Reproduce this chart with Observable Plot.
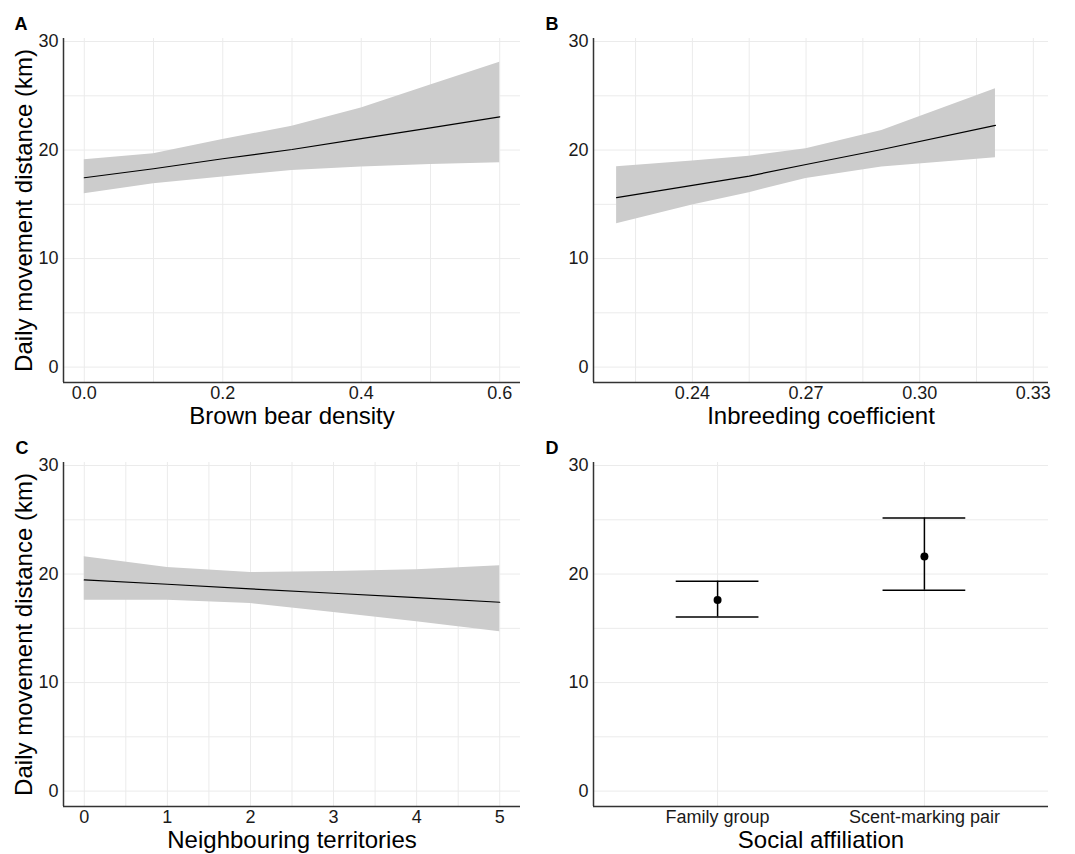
<!DOCTYPE html>
<html><head><meta charset="utf-8">
<script src="https://cdn.jsdelivr.net/npm/d3@7"></script>
<script src="https://cdn.jsdelivr.net/npm/@observablehq/plot@0.6"></script>
<style>
body{margin:0;background:#fff;}
#wrap{position:relative;width:1075px;height:854px;font-family:"Liberation Sans",Arial,sans-serif;}
#wrap svg{position:absolute;}
</style></head><body><div id="wrap"></div>
<script>
const yTitle = "Daily movement distance (km)";
const yTicks = [0, 10, 20, 30];
const yGrid = [0, 5, 10, 15, 20, 25, 30];
const yDomain = [-1.42, 30.28];

// Panel A: Brown bear density
const densityX   = [0, 0.1, 0.2, 0.3, 0.4, 0.5, 0.6];
const densityFit = [17.45, 18.28, 19.2, 20.05, 21.06, 22.04, 23.05];
const densityLo  = [15.98, 16.9, 17.51, 18.12, 18.43, 18.67, 18.83];
const densityHi  = [19.1, 19.65, 20.97, 22.19, 23.88, 26.0, 28.1];
const densityTicks = [0, 0.2, 0.4, 0.6];
const densityGrid  = [0, 0.1, 0.2, 0.3, 0.4, 0.5, 0.6];

// Panel B: Inbreeding coefficient
const inbreedX   = [0.22, 0.24, 0.255, 0.27, 0.29, 0.32];
const inbreedFit = [15.61, 16.74, 17.6, 18.67, 20.05, 22.28];
const inbreedLo  = [13.22, 14.94, 16.07, 17.39, 18.43, 19.28];
const inbreedHi  = [18.46, 19.0, 19.44, 20.11, 21.8, 25.65];
const inbreedTicks = [0.24, 0.27, 0.30, 0.33];
const inbreedGrid  = [0.225, 0.24, 0.255, 0.27, 0.285, 0.30, 0.315, 0.33];

// Panel C: Neighbouring territories
const neighX   = [0, 1, 2, 3, 4, 5];
const neighFit = [19.46, 19.06, 18.63, 18.23, 17.83, 17.4];
const neighLo  = [17.59, 17.59, 17.28, 16.45, 15.61, 14.69];
const neighHi  = [21.59, 20.6, 20.14, 20.23, 20.39, 20.76];
const neighTicks = [0, 1, 2, 3, 4, 5];
const neighGrid  = [0, 0.5, 1, 1.5, 2, 2.5, 3, 3.5, 4, 4.5, 5];

// Panel D: Social affiliation
const affiliation = ["Family group", "Scent-marking pair"];
const affFit = [17.62, 21.62];
const affLo  = [16.05, 18.51];
const affHi  = [19.34, 25.16];

const font = '"Liberation Sans", Arial, sans-serif';
const wrap = document.getElementById("wrap");

function band(xs, fit, lo, hi) {
  const rows = xs.map((x, i) => ({x, fit: fit[i], lo: lo[i], hi: hi[i]}));
  return [
    Plot.areaY(rows, {x: "x", y1: "lo", y2: "hi", fill: "#cccccc"}),
    Plot.lineY(rows, {x: "x", y: "fit", stroke: "black", strokeWidth: 1.2})
  ];
}

function panel(o) {
  const svg = Plot.plot({
    width: o.width, height: o.height,
    marginTop: o.mt, marginBottom: o.mb, marginLeft: o.ml, marginRight: o.mr,
    x: {domain: o.xDomain},
    y: {domain: yDomain},
    style: {fontFamily: font, background: "transparent", overflow: "visible"},
    marks: [
      Plot.ruleY(yGrid, {stroke: "#ebebeb", strokeWidth: 1}),
      Plot.ruleX(o.xGrid, {stroke: "#ebebeb", strokeWidth: 1}),
      ...o.marks,
      Plot.ruleX([o.xDomain[0]], {stroke: "#333", strokeWidth: 1.5}),
      Plot.ruleY([yDomain[0]], {stroke: "#333", strokeWidth: 1.5}),
      Plot.axisY({ticks: yTicks, tickSize: 0, tickPadding: 5, fontSize: 18, fill: "#1a1a1a", label: null}),
      Plot.axisX({ticks: o.xTicks, tickSize: 0, tickPadding: 4, fontSize: 18, fill: "#1a1a1a", label: null, tickFormat: o.xTickFormat}),
      Plot.text([o.xTitle], {frameAnchor: "bottom", dy: 34, fontSize: 24, lineAnchor: "middle", textAnchor: "middle", fill: "black"}),
      o.showYTitle ? Plot.text([yTitle], {frameAnchor: "left", dx: -39, rotate: -90, fontSize: 24, lineAnchor: "middle", textAnchor: "middle", fill: "black"}) : null,
      Plot.text([o.letter], {frameAnchor: "top-left", dx: o.ldx, dy: o.ldy, fontSize: 18, fontWeight: "bold", lineAnchor: "top", textAnchor: "start", fill: "black"})
    ]
  });
  svg.style.left = o.left + "px";
  svg.style.top = o.top + "px";
  wrap.appendChild(svg);
}

panel({
  left: 0, top: 0, width: 537, height: 430, mt: 38, mb: 48, ml: 63, mr: 17,
  xDomain: [-0.03, 0.63], xTicks: densityTicks, xGrid: densityGrid,
  xTickFormat: d3.format(".1f"),
  xTitle: "Brown bear density", showYTitle: true, letter: "A", ldx: -49, ldy: -21,
  marks: band(densityX, densityFit, densityLo, densityHi)
});

panel({
  left: 537, top: 0, width: 538, height: 430, mt: 38, mb: 48, ml: 56, mr: 27,
  xDomain: [0.2139, 0.334], xTicks: inbreedTicks, xGrid: inbreedGrid,
  xTickFormat: d3.format(".2f"),
  xTitle: "Inbreeding coefficient", showYTitle: false, letter: "B", ldx: -48, ldy: -21,
  marks: band(inbreedX, inbreedFit, inbreedLo, inbreedHi)
});

panel({
  left: 0, top: 430, width: 537, height: 424, mt: 32, mb: 48, ml: 63, mr: 17,
  xDomain: [-0.25, 5.25], xTicks: neighTicks, xGrid: neighGrid,
  xTickFormat: d3.format("d"),
  xTitle: "Neighbouring territories", showYTitle: true, letter: "C", ldx: -48, ldy: -21,
  marks: band(neighX, neighFit, neighLo, neighHi)
});

const affRows = affiliation.map((c, i) => ({c, i: i + 1, fit: affFit[i], lo: affLo[i], hi: affHi[i]}));
panel({
  left: 537, top: 430, width: 538, height: 424, mt: 32, mb: 48, ml: 56, mr: 27,
  xDomain: [0.4, 2.6], xTicks: [1, 2], xGrid: [1, 2],
  xTickFormat: d => affiliation[d - 1],
  xTitle: "Social affiliation", showYTitle: false, letter: "D", ldx: -48, ldy: -21,
  marks: [
    Plot.ruleX(affRows, {x: "i", y1: "lo", y2: "hi", stroke: "black", strokeWidth: 1.5}),
    Plot.ruleY(affRows, {y: "hi", x1: d => d.i - 0.2, x2: d => d.i + 0.2, stroke: "black", strokeWidth: 1.5}),
    Plot.ruleY(affRows, {y: "lo", x1: d => d.i - 0.2, x2: d => d.i + 0.2, stroke: "black", strokeWidth: 1.5}),
    Plot.dot(affRows, {x: "i", y: "fit", r: 4, fill: "black", stroke: "none"})
  ]
});
</script>
</body></html>
